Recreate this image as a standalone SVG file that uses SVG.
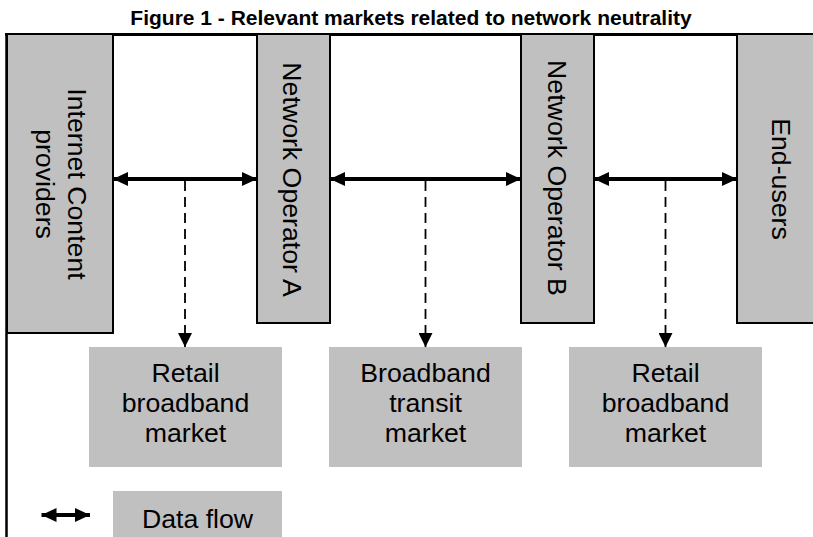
<svg xmlns="http://www.w3.org/2000/svg" width="813" height="537" viewBox="0 0 813 537">
  <style>
    .lbl { font-family: "Liberation Sans", Arial, sans-serif; font-size: 26.7px; fill: #000; }
    .title { font-family: "Liberation Sans", Arial, sans-serif; font-size: 21px; font-weight: bold; fill: #000; }
    .actor { fill: #c0c0c0; stroke: #000; stroke-width: 2; }
    .market { fill: #c0c0c0; stroke: none; }
    .flow { stroke: #000; stroke-width: 4; fill: none; }
    .dash { stroke: #000; stroke-width: 1.8; fill: none; stroke-dasharray: 10 6; }
    .frame { stroke: #000; fill: none; }
  </style>
  <defs>
    <marker id="ah" viewBox="0 0 15 14" refX="15" refY="7" markerWidth="15" markerHeight="14" markerUnits="userSpaceOnUse" orient="auto-start-reverse">
      <path d="M0,0 L15,7 L0,14 z" fill="#000"/>
    </marker>
    <marker id="dh" viewBox="0 0 14 14" refX="14" refY="7" markerWidth="14" markerHeight="14" markerUnits="userSpaceOnUse" orient="auto">
      <path d="M0,0 L14,7 L0,14 z" fill="#000"/>
    </marker>
  </defs>

  <rect x="0" y="0" width="813" height="537" fill="#fff"/>

  <text class="title" x="411" y="25" text-anchor="middle">Figure 1 - Relevant markets related to network neutrality</text>

  <g id="frame">
    <line class="frame" x1="5" y1="34.5" x2="813" y2="34.5" stroke-width="3"/>
    <line class="frame" x1="6.5" y1="33" x2="6.5" y2="537" stroke-width="2.5"/>
  </g>

  <g id="icp">
    <rect class="actor" x="7" y="34" width="106" height="299"/>
    <text class="lbl" transform="translate(67.5,184) rotate(90)" text-anchor="middle">Internet Content</text>
    <text class="lbl" transform="translate(36,184) rotate(90)" text-anchor="middle">providers</text>
  </g>

  <g id="operator-a">
    <rect class="actor" x="257" y="34" width="73" height="289"/>
    <text class="lbl" transform="translate(283,179.5) rotate(90)" text-anchor="middle">Network Operator A</text>
  </g>

  <g id="operator-b">
    <rect class="actor" x="521" y="34" width="73" height="289"/>
    <text class="lbl" transform="translate(548,178) rotate(90)" text-anchor="middle">Network Operator B</text>
  </g>

  <g id="end-users">
    <rect class="actor" x="737" y="34" width="90" height="289"/>
    <text class="lbl" transform="translate(772,179) rotate(90)" text-anchor="middle">End-users</text>
  </g>

  <g id="market-retail-1">
    <rect class="market" x="89" y="347" width="193" height="120"/>
    <text class="lbl" x="185.5" text-anchor="middle"><tspan x="185.5" y="381.7">Retail</tspan><tspan x="185.5" y="411.7">broadband</tspan><tspan x="185.5" y="441.7">market</tspan></text>
  </g>

  <g id="market-transit">
    <rect class="market" x="329" y="347" width="193" height="120"/>
    <text class="lbl" x="425.5" text-anchor="middle"><tspan x="425.5" y="381.7">Broadband</tspan><tspan x="425.5" y="411.7">transit</tspan><tspan x="425.5" y="441.7">market</tspan></text>
  </g>

  <g id="market-retail-2">
    <rect class="market" x="569" y="347" width="193" height="120"/>
    <text class="lbl" x="665.5" text-anchor="middle"><tspan x="665.5" y="381.7">Retail</tspan><tspan x="665.5" y="411.7">broadband</tspan><tspan x="665.5" y="441.7">market</tspan></text>
  </g>

  <g id="legend">
    <line class="flow" x1="41.5" y1="515" x2="90" y2="515" marker-start="url(#ah)" marker-end="url(#ah)"/>
    <rect class="market" x="113" y="491" width="169" height="50"/>
    <text class="lbl" x="197.5" y="528" text-anchor="middle">Data flow</text>
  </g>

  <g id="connectors">
    <line class="flow" x1="113" y1="179" x2="257" y2="179" marker-start="url(#ah)" marker-end="url(#ah)"/>
    <line class="flow" x1="330" y1="179" x2="521" y2="179" marker-start="url(#ah)" marker-end="url(#ah)"/>
    <line class="flow" x1="594" y1="179" x2="737" y2="179" marker-start="url(#ah)" marker-end="url(#ah)"/>
    <line class="dash" x1="185" y1="181" x2="185" y2="347" marker-end="url(#dh)"/>
    <line class="dash" x1="425.5" y1="181" x2="425.5" y2="347" marker-end="url(#dh)"/>
    <line class="dash" x1="665.5" y1="181" x2="665.5" y2="347" marker-end="url(#dh)"/>
  </g>
</svg>
